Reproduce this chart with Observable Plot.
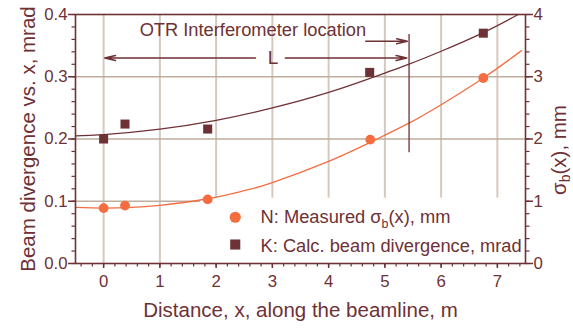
<!DOCTYPE html>
<html><head><meta charset="utf-8">
<script src="https://cdn.jsdelivr.net/npm/d3@7"></script>
<script src="https://cdn.jsdelivr.net/npm/@observablehq/plot@0.6"></script>
<style>
html,body{margin:0;padding:0;background:#fff;}
#chart{width:573px;height:328px;}
</style></head><body><div id="chart"></div>
<script>
// N: measured beam size (mm) vs distance (m)
const nX = [0, 0.38, 1.85, 4.74, 6.75];
const nMM = [0.89, 0.93, 1.03, 1.99, 2.98];
// K: calculated beam divergence (mrad) vs distance (m)
const kX = [0, 0.38, 1.85, 4.73, 6.75];
const kMrad = [0.200, 0.224, 0.216, 0.307, 0.370];
// fitted curves
const fitNX = [-0.5, 0, 0.5, 1, 1.85, 2.5, 3, 4, 4.75, 5.42, 6, 6.75, 7.43];
const fitNMM = [0.90, 0.89, 0.90, 0.935, 1.04, 1.17, 1.30, 1.64, 1.95, 2.25, 2.55, 2.98, 3.42];
const fitKX = [-0.5, 0, 1, 2, 3, 4, 4.75, 5.42, 6, 6.75, 7.37];
const fitKMrad = [0.205, 0.207, 0.216, 0.230, 0.250, 0.275, 0.298, 0.320, 0.341, 0.371, 0.400];
// ticks
const xMajor = [0, 1, 2, 3, 4, 5, 6, 7];
const xMinor = d3.range(-0.4, 7.45, 0.2);
const yMajor = [0, 0.1, 0.2, 0.3, 0.4];
const yGrid = [0.1, 0.2, 0.3];
const yMinor = d3.range(0, 0.401, 0.02);
const rightTickLabels = ["0", "1", "2", "3", "4"];
// texts
const xLabel = ["Distance, x, along the beamline, m"];
const yLabel = ["Beam divergence vs. x, mrad"];
const y2Label = ["σ_b(x), mm"];
const annoText = ["OTR Interferometer location"];
const spanText = ["L"];
const legendLabels = ["N: Measured σ_b(x), mm", "K: Calc. beam divergence, mrad"];
const legendSymbols = ["circle", "square"];

const ink = "#6e3135";
const orange = "#f36d40";
const gridV = "#d5c9bd";
const gridH = "#bdae9f";
const font = "'Liberation Sans', Arial, Helvetica, sans-serif";

const N = nX.map((x, i) => ({x, y: nMM[i] / 10}));
const K = kX.map((x, i) => ({x, y: kMrad[i]}));
const fitN = fitNX.map((x, i) => ({x, y: fitNMM[i] / 10}));
const fitK = fitKX.map((x, i) => ({x, y: fitKMrad[i]}));
const legend = legendLabels.map((label, i) => ({
  label, symbol: legendSymbols[i],
  color: i === 0 ? orange : ink,
  dotY: i === 0 ? 0.0743 : 0.0305,
  textY: i === 0 ? 0.0739 : 0.0280
}));

const arrowStyle = {stroke: ink, strokeWidth: 1.5, headLength: 11, headAngle: 26};
const labelStyle = {text: d => d, fontSize: 20.5, fill: ink, textAnchor: "middle", lineAnchor: "middle"};

const chart = Plot.plot({
  width: 573, height: 328,
  marginLeft: 75, marginRight: 48, marginTop: 14, marginBottom: 65,
  x: {domain: [-0.5, 7.5]},
  y: {domain: [0, 0.4]},
  style: {fontFamily: font, color: ink, background: "#fff", overflow: "visible"},
  marks: [
    Plot.gridX(xMajor, {stroke: gridV, strokeOpacity: 1, strokeWidth: 2}),
    Plot.gridY(yGrid, {stroke: gridH, strokeOpacity: 1, strokeWidth: 1.5}),
    Plot.rect([0], {x1: 1.72, x2: 7.5, y1: 0, y2: 0.105, fill: "white"}),
    Plot.line(fitK, {x: "x", y: "y", curve: "natural", stroke: ink, strokeWidth: 1.3}),
    Plot.line(fitN, {x: "x", y: "y", curve: "natural", stroke: orange, strokeWidth: 1.3}),
    Plot.ruleX([5.43], {y1: 0.178, y2: 0.368, stroke: ink, strokeWidth: 1.3}),
    Plot.arrow([0], {x1: 4.66, y1: 0.357, x2: 5.40, y2: 0.357, ...arrowStyle}),
    Plot.arrow([0], {x1: 2.70, y1: 0.330, x2: 0.02, y2: 0.330, ...arrowStyle}),
    Plot.arrow([0], {x1: 3.23, y1: 0.330, x2: 5.39, y2: 0.330, ...arrowStyle}),
    Plot.text(annoText, {x: 0.64, y: 0.3745, text: d => d, textAnchor: "start", fontSize: 18.3, fill: ink}),
    Plot.text(spanText, {x: 3.01, y: 0.331, text: d => d, fontSize: 19, fill: ink}),
    Plot.dot(K, {x: "x", y: "y", symbol: "square", r: 5.1, fill: ink}),
    Plot.dot(N, {x: "x", y: "y", r: 4.9, fill: orange}),
    Plot.dot(legend.filter(d => d.symbol === "circle"), {x: 2.34, y: "dotY", symbol: "circle", r: 5.6, fill: "color"}),
    Plot.dot(legend.filter(d => d.symbol === "square"), {x: 2.34, y: "dotY", symbol: "square", r: 5.7, fill: "color"}),
    Plot.text(legend, {x: 2.79, y: "textY", text: "label", textAnchor: "start", fontSize: 18.3, fill: ink}),
    Plot.frame({stroke: ink, strokeWidth: 1.6}),
    Plot.axisX(xMinor, {tickSize: 3.5, fill: "none", strokeWidth: 1.2, label: null}),
    Plot.axisX(xMajor, {tickSize: 5, tickPadding: 7, fontSize: 16.8, strokeWidth: 1.5, label: null}),
    Plot.axisY(yMinor, {anchor: "left", tickSize: 3.5, fill: "none", strokeWidth: 1.2, label: null}),
    Plot.axisY(yMajor, {anchor: "left", tickSize: 7, tickPadding: 1, fontSize: 16.8, strokeWidth: 1.5, tickFormat: d3.format(".1f"), label: null}),
    Plot.axisY(yMinor, {anchor: "right", tickSize: 3.5, fill: "none", strokeWidth: 1.2, label: null}),
    Plot.axisY(yMajor, {anchor: "right", tickSize: 7, tickPadding: 1, fontSize: 16.8, strokeWidth: 1.5, tickFormat: (d, i) => rightTickLabels[i], label: null}),
    Plot.text(xLabel, {frameAnchor: "bottom", dy: 47, ...labelStyle}),
    Plot.text(yLabel, {frameAnchor: "left", rotate: -90, dx: -46.6, ...labelStyle}),
    Plot.text(y2Label, {frameAnchor: "right", rotate: -90, dx: 33.5, dy: 11, ...labelStyle})
  ]
});

// subscripts for σ_b
d3.select(chart).selectAll("text").each(function() {
  const t = this.textContent;
  if (!t.includes("_b")) return;
  const [a, b] = t.split("_b");
  const sel = d3.select(this);
  sel.text(null);
  sel.append("tspan").text(a);
  sel.append("tspan").attr("font-size", "0.68em").attr("dy", "0.35em").text("b");
  sel.append("tspan").attr("dy", "-0.24em").text(b);
});

document.getElementById("chart").appendChild(chart);
</script></body></html>
